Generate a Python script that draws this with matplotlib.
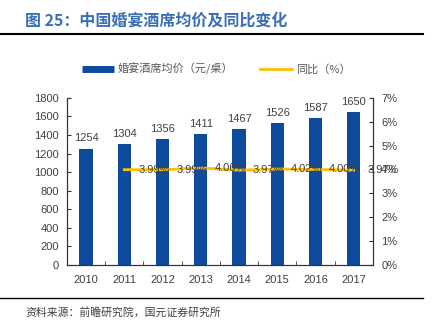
import numpy as np
import matplotlib
matplotlib.use("Agg")
import matplotlib.pyplot as plt
from matplotlib.ticker import FuncFormatter
from matplotlib.lines import Line2D

plt.rcParams['font.family'] = ['Liberation Sans', 'Noto Sans CJK SC', 'DejaVu Sans']

# data
years = ['2010', '2011', '2012', '2013', '2014', '2015', '2016', '2017']
price = [1254, 1304, 1356, 1411, 1467, 1526, 1587, 1650]
yoy_years = ['2011', '2012', '2013', '2014', '2015', '2016', '2017']
yoy = [3.99, 3.99, 4.06, 3.97, 4.02, 4.00, 3.97]

bar_color = '#0e4b9f'
line_color = '#ffc000'
txt_color = '#404040'
cjk = ['Noto Sans CJK SC', 'DejaVu Sans']

fig = plt.figure(figsize=(4.32, 3.21), dpi=100)
ax = fig.add_axes([0.155, 0.175, 0.708, 0.52])
ax2 = ax.twinx()

x = np.arange(len(years))
ax.bar(x, price, width=0.35, color=bar_color, zorder=2)
for xi, v in zip(x, price):
    ax.text(xi, v + 55, str(v), ha='center', va='bottom', fontsize=8, color=txt_color)

x2 = np.array([years.index(y) for y in yoy_years])
ax2.plot(x2, yoy, color=line_color, lw=2, zorder=3)
for xi, v in zip(x2, yoy):
    ax2.text(xi + 0.36, v, f'{v:.2f}%', ha='left', va='center', fontsize=8, color=txt_color)

ax.set_xlim(-0.5, 7.5)
ax.set_ylim(0, 1800)
ax.set_yticks(range(0, 1801, 200))
ax2.set_ylim(0, 7)
ax2.set_yticks(range(0, 8))
ax2.yaxis.set_major_formatter(FuncFormatter(lambda v, p: f'{int(v)}%'))
ax.set_xticks(x)
ax.set_xticklabels(years)
ax.set_xticks(x[:-1] + 0.5, minor=True)

for a in (ax, ax2):
    a.spines['top'].set_visible(False)
    a.tick_params(labelsize=8, colors=txt_color, length=3, direction='in')
    for s in ('left', 'right', 'bottom'):
        a.spines[s].set_color('#333333')
ax.tick_params(axis='x', which='major', length=0, pad=7)
ax.tick_params(axis='x', which='minor', length=3, direction='in', color='#333333')
ax.tick_params(axis='y', pad=6, color='#333333')
ax2.tick_params(axis='y', pad=6, color='#333333')

handles = [Line2D([], [], color=bar_color, lw=5, solid_capstyle='butt'),
           Line2D([], [], color=line_color, lw=2)]
labels = ['婚宴酒席均价（元/桌）', '同比（%）']
leg = fig.legend(handles, labels, loc='center', bbox_to_anchor=(0.501, 0.785), ncol=2,
                 frameon=False, prop={'family': cjk, 'size': 8}, columnspacing=2.4,
                 handlelength=2.9, handletextpad=0.36)
for t in leg.get_texts():
    t.set_color('#595959')

fig.text(0.058, 0.935, '图 25：中国婚宴酒席均价及同比变化', fontsize=11.5, fontweight='bold',
         color='#3a6fb7', family=cjk, va='center')
fig.add_artist(Line2D([0.0, 0.98], [0.895, 0.895], color='black', lw=1.5))
fig.add_artist(Line2D([0.0, 0.98], [0.072, 0.072], color='black', lw=1))
fig.text(0.058, 0.028, '资料来源：前瞻研究院，国元证券研究所', fontsize=7.8, color='#404040',
         family=cjk, va='center')

fig.savefig('out.png', dpi=100)
